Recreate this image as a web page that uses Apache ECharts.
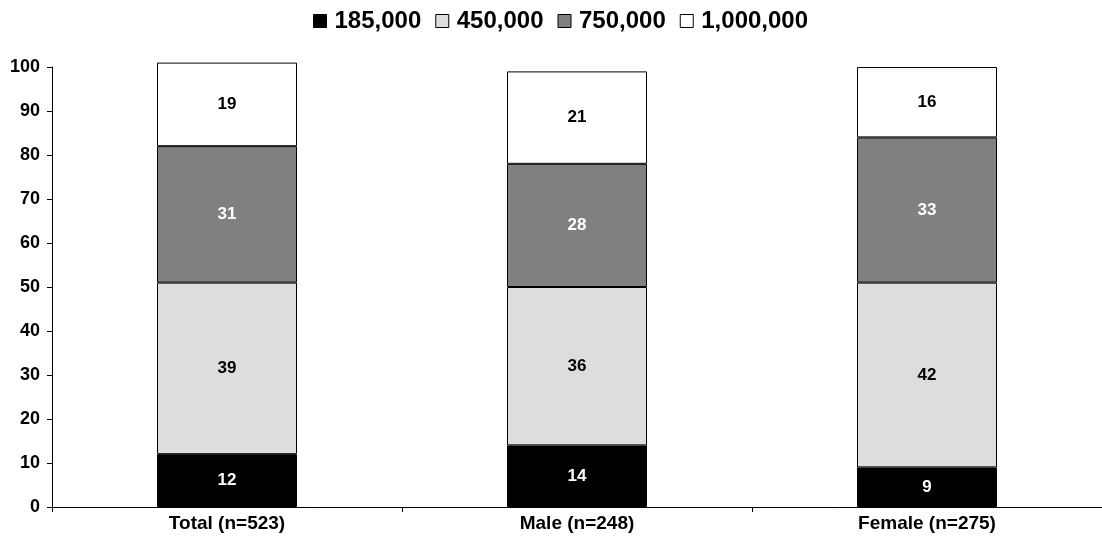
<!DOCTYPE html>
<html>
<head>
<meta charset="utf-8">
<script src="https://cdn.jsdelivr.net/npm/echarts@6/dist/echarts.min.js"></script>
<style>
  html, body { margin: 0; padding: 0; background: #fff; }
  #chart { width: 1102px; height: 545px; }
</style>
</head>
<body>
<div id="chart"></div>
<script>
const categories = ["Total (n=523)", "Male (n=248)", "Female (n=275)"];
const seriesNames = ["185,000", "450,000", "750,000", "1,000,000"];
const v185 = [12, 14, 9];
const v450 = [39, 36, 42];
const v750 = [31, 28, 33];
const v1000 = [19, 21, 16];
const yTicks = [0, 10, 20, 30, 40, 50, 60, 70, 80, 90, 100];

const colors = ["#000000", "#dddddd", "#808080", "#ffffff"];
const labelColors = ["#ffffff", "#000000", "#ffffff", "#000000"];
const values = [v185, v450, v750, v1000];

const chart = echarts.init(document.getElementById("chart"));

const series = seriesNames.map((name, i) => ({
  name: name,
  type: "bar",
  stack: "total",
  barWidth: "40%",
  clip: false,
  data: values[i],
  itemStyle: { color: colors[i], borderColor: "#000", borderWidth: 1 },
  label: {
    show: true,
    position: "inside",
    color: labelColors[i],
    fontFamily: "Liberation Sans, Arial",
    fontWeight: "bold",
    fontSize: 17
  },
  emphasis: { disabled: true }
}));

chart.setOption({
  animation: false,
  textStyle: { fontFamily: "Liberation Sans, Arial" },
  legend: {
    top: 4,
    left: 308,
    data: seriesNames,
    icon: "rect",
    itemWidth: 13,
    itemHeight: 13,
    itemGap: 14,
    itemStyle: { borderColor: "#000", borderWidth: 1 },
    textStyle: { fontSize: 24, fontWeight: "bold", color: "#000", padding: [0, 0, 0, 3] }
  },
  grid: { left: 52, right: 0, top: 67, bottom: 38 },
  xAxis: {
    type: "category",
    data: categories,
    axisLine: { lineStyle: { color: "#000", width: 1 } },
    axisTick: { show: true, length: 5, lineStyle: { color: "#000" } },
    axisLabel: { color: "#000", fontWeight: "bold", fontSize: 19, margin: 7 }
  },
  yAxis: {
    type: "value",
    min: 0,
    max: 100,
    interval: 10,
    splitLine: { show: false },
    axisLine: { show: true, lineStyle: { color: "#000", width: 1 } },
    axisTick: { show: true, length: 5, lineStyle: { color: "#000" } },
    axisLabel: {
      color: "#000",
      fontWeight: "bold",
      fontSize: 18,
      margin: 12,
      formatter: (v) => (yTicks.includes(v) ? String(v) : "")
    }
  },
  series: series
});
</script>
</body>
</html>
